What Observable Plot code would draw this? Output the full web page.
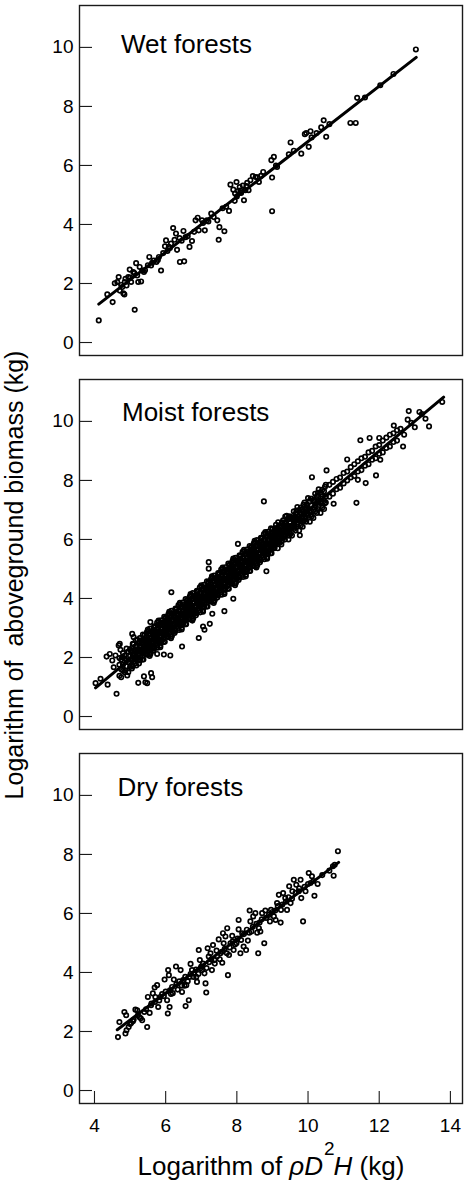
<!DOCTYPE html>
<html>
<head>
<meta charset="utf-8">
<script src="https://cdn.jsdelivr.net/npm/d3@7"></script>
<script src="https://cdn.jsdelivr.net/npm/@observablehq/plot@0.6"></script>
<style>
  body { margin: 0; background: #fff; }
  #chart { position: relative; width: 464px; height: 1187px; font-family: "Liberation Sans", Arial, sans-serif; }
  #chart > div.panel { position: absolute; left: 0; }
  #overlay { position: absolute; left: 0; top: 0; pointer-events: none; }
</style>
</head>
<body>
<div id="chart"></div>
<script>
// ---------- data ----------
const panelTitles = ["Wet forests", "Moist forests", "Dry forests"];
const yTicks = [0, 2, 4, 6, 8, 10];
const xTicks = [4, 6, 8, 10, 12, 14];
const yTitle = "Logarithm of  aboveground biomass (kg)";

// regression line endpoints [x, y]
const wetLine = [[4.12, 1.30], [13.04, 9.66]];
const moistLine = [[4.03, 0.97], [13.81, 10.82]];
const dryLine = [[4.64, 2.06], [10.86, 7.73]];

// observations [x, y]
const wet = [
[4.12,0.75],[4.36,1.63],[4.51,1.37],[4.57,2.01],[4.64,2.05],[4.68,2.22],[4.71,1.76],[4.78,1.88],[4.81,1.67],[4.84,1.63],
[4.87,2.16],[4.90,1.93],[4.95,2.22],[4.99,2.47],[5.03,2.05],[5.09,2.39],[5.13,1.11],[5.17,2.69],[5.20,2.27],[5.23,2.05],
[5.27,2.56],[5.31,2.07],[5.34,2.44],[5.39,2.39],[5.54,2.90],[5.59,2.61],[5.67,2.78],[5.74,2.73],[5.81,2.90],[5.87,2.44],
[5.93,3.03],[5.98,3.26],[6.01,3.46],[6.09,3.24],[6.15,3.35],[6.21,3.88],[6.25,3.48],[6.29,3.69],[6.32,3.14],[6.39,3.54],
[6.40,2.73],[6.50,3.78],[6.52,2.75],[6.56,3.57],[6.67,3.24],[6.74,3.44],[6.84,4.14],[6.90,4.23],[6.93,3.80],[7.02,4.14],
[7.10,3.80],[7.16,4.14],[7.28,4.37],[7.45,4.14],[7.49,3.48],[7.51,3.91],[7.65,3.77],[7.78,4.46],[7.82,5.35],[7.90,5.18],
[7.94,4.80],[7.99,5.44],[8.03,5.13],[8.08,5.27],[8.12,5.07],[8.17,5.32],[8.20,4.82],[8.24,5.16],[8.29,5.41],[8.33,5.16],
[8.45,5.64],[8.53,5.61],[8.62,5.44],[8.74,5.78],[8.97,6.18],[8.99,5.59],[8.99,4.45],[9.04,6.29],[9.13,5.95],[9.46,6.38],
[9.51,6.78],[9.81,6.40],[9.91,7.06],[9.95,7.10],[10.02,6.63],[10.07,7.16],[10.24,7.10],[10.37,7.29],[10.44,7.53],[10.51,6.97],
[11.19,7.44],[11.34,7.44],[11.38,8.29],[12.03,8.72],[13.03,9.93],
[4.75,1.95],[4.85,2.05],[5.00,2.20],[5.12,2.35],[5.42,2.45],[5.50,2.62],[5.62,2.70],[5.78,2.80],[6.05,3.10],[6.12,3.20],
[6.45,3.45],[6.62,3.60],[6.80,3.75],[7.05,4.05],[7.20,4.10],[7.35,4.25],[7.60,4.55],[7.70,4.60],[7.95,5.05],[8.00,4.95],
[8.10,5.15],[8.27,5.30],[8.38,5.50],[8.58,5.60],[8.68,5.65],[9.10,6.00],[9.60,6.50],[10.10,6.95],[10.60,7.40],[11.60,8.30],[12.40,9.10]
];

const moist = [
[4.03,1.13],[4.17,1.28],[4.37,1.08],[4.34,2.03],[4.43,2.12],[4.50,1.90],[4.54,1.67],[4.62,0.77],[4.59,2.07],[4.68,2.41],
[4.71,2.46],[4.73,2.26],[4.78,2.01],[4.87,1.56],[4.92,1.39],[5.06,2.80],[5.10,2.69],[5.23,1.14],[5.39,1.36],[5.43,1.16],
[5.48,1.13],[5.59,1.47],[5.62,1.33],[5.57,3.20],[5.76,2.12],[5.95,2.10],[6.13,2.07],[6.16,4.21],[6.46,2.37],[6.93,2.66],
[7.05,3.05],[7.09,2.94],[7.24,3.14],[7.31,3.48],[7.65,3.57],[7.21,5.01],[7.21,5.23],[8.03,5.85],[7.90,3.99],[8.83,4.92],
[8.76,7.29],[9.77,6.14],[10.11,8.11],[10.52,8.34],[10.72,7.21],[11.10,8.71],[11.36,7.24],[11.40,8.02],[11.47,9.36],[11.62,7.91],
[11.73,9.44],[11.91,8.17],[12.00,9.44],[12.03,8.70],[12.41,9.86],[12.67,9.15],[12.80,10.06],[12.83,10.35],[13.13,10.32],[13.30,10.09],
[13.40,9.83],[13.77,10.66],
[4.70,1.38],[4.70,1.75],[4.70,1.98],[4.75,1.60],[4.75,1.93],[4.75,1.33],[4.80,2.15],[4.80,1.75],[4.80,1.55],
[4.85,1.97],[4.85,1.50],[4.85,2.07],[4.90,1.70],[4.90,2.30],[4.90,1.90],[4.95,2.20],[4.95,1.85],[4.95,1.50],
[5.00,1.68],[5.00,2.05],[5.00,2.28],[5.05,1.90],[5.05,2.23],[5.05,1.63],[5.10,2.45],[5.10,2.05],[5.10,1.85],
[5.15,2.27],[5.15,1.80],[5.15,2.37],[5.20,2.00],[5.20,2.60],[5.20,2.20],[5.25,2.50],[5.25,2.15],[5.25,1.80],
[5.30,1.98],[5.30,2.35],[5.30,2.58],[5.35,2.20],[5.35,2.53],[5.35,1.93],[5.40,2.75],[5.40,2.35],[5.40,2.15],
[5.45,2.57],[5.45,2.10],[5.45,2.67],
[5.50,2.30],[5.50,2.90],[5.50,2.50],[5.50,2.95],[5.55,2.80],[5.55,2.45],[5.55,2.10],[5.55,2.05],
[5.60,2.28],[5.60,2.65],[5.60,2.88],[5.60,2.68],[5.65,2.50],[5.65,2.83],[5.65,2.23],[5.65,2.37],
[5.70,3.05],[5.70,2.65],[5.70,2.45],[5.70,3.02],[5.75,2.87],[5.75,2.40],[5.75,2.97],[5.75,2.63],
[5.80,2.60],[5.80,3.20],[5.80,2.80],[5.80,3.25],[5.85,3.10],[5.85,2.75],[5.85,2.40],[5.85,2.35],
[5.90,2.58],[5.90,2.95],[5.90,3.18],[5.90,2.98],[5.95,2.80],[5.95,3.13],[5.95,2.53],[5.95,2.67],
[6.00,3.35],[6.00,2.95],[6.00,2.75],[6.00,3.32],[6.05,3.17],[6.05,2.70],[6.05,3.27],[6.05,2.93],
[6.10,2.90],[6.10,3.50],[6.10,3.10],[6.10,3.55],[6.15,3.40],[6.15,3.05],[6.15,2.70],[6.15,2.65],
[6.20,2.88],[6.20,3.25],[6.20,3.48],[6.20,3.28],[6.25,3.10],[6.25,3.43],[6.25,2.83],[6.25,2.97],
[6.30,3.65],[6.30,3.25],[6.30,3.05],[6.30,3.62],[6.35,3.47],[6.35,3.00],[6.35,3.57],[6.35,3.23],
[6.40,3.20],[6.40,3.80],[6.40,3.40],[6.40,3.85],[6.45,3.70],[6.45,3.35],[6.45,3.00],[6.45,2.95],
[6.50,3.18],[6.50,3.55],[6.50,3.78],[6.50,3.58],[6.55,3.40],[6.55,3.73],[6.55,3.13],[6.55,3.27],
[6.60,3.95],[6.60,3.55],[6.60,3.35],[6.60,3.92],[6.65,3.77],[6.65,3.30],[6.65,3.87],[6.65,3.53],
[6.70,3.50],[6.70,4.10],[6.70,3.70],[6.70,4.15],[6.75,4.00],[6.75,3.65],[6.75,3.30],[6.75,3.25],
[6.80,3.48],[6.80,3.85],[6.80,4.08],[6.80,3.88],[6.85,3.70],[6.85,4.03],[6.85,3.43],[6.85,3.57],
[6.90,4.25],[6.90,3.85],[6.90,3.65],[6.90,4.22],[6.95,4.07],[6.95,3.60],[6.95,4.17],[6.95,3.83],
[7.00,3.80],[7.00,4.40],[7.00,4.00],[7.00,4.45],[7.05,4.30],[7.05,3.95],[7.05,3.60],[7.05,3.55],
[7.10,3.78],[7.10,4.15],[7.10,4.38],[7.10,4.18],[7.15,4.00],[7.15,4.33],[7.15,3.73],[7.15,3.87],
[7.20,4.55],[7.20,4.15],[7.20,3.95],[7.20,4.52],[7.25,4.37],[7.25,3.90],[7.25,4.47],[7.25,4.13],
[7.30,4.10],[7.30,4.70],[7.30,4.30],[7.30,4.75],[7.35,4.60],[7.35,4.25],[7.35,3.90],[7.35,3.85],
[7.40,4.08],[7.40,4.45],[7.40,4.68],[7.40,4.48],[7.45,4.30],[7.45,4.63],[7.45,4.03],[7.45,4.17],
[7.50,4.85],[7.50,4.45],[7.50,4.25],[7.50,4.82],[7.55,4.67],[7.55,4.20],[7.55,4.77],[7.55,4.43],
[7.60,4.40],[7.60,5.00],[7.60,4.60],[7.60,5.05],[7.65,4.90],[7.65,4.55],[7.65,4.20],[7.65,4.15],
[7.70,4.38],[7.70,4.75],[7.70,4.98],[7.70,4.78],[7.75,4.60],[7.75,4.93],[7.75,4.33],[7.75,4.47],
[7.80,5.15],[7.80,4.75],[7.80,4.55],[7.80,5.12],[7.85,4.97],[7.85,4.50],[7.85,5.07],[7.85,4.73],
[7.90,4.70],[7.90,5.30],[7.90,4.90],[7.90,5.35],[7.95,5.20],[7.95,4.85],[7.95,4.50],[7.95,4.45],
[8.00,4.68],[8.00,5.05],[8.00,5.28],[8.00,5.08],[8.05,4.90],[8.05,5.23],[8.05,4.63],[8.05,4.77],
[8.10,5.45],[8.10,5.05],[8.10,4.85],[8.10,5.42],[8.15,5.27],[8.15,4.80],[8.15,5.37],[8.15,5.03],
[8.20,5.00],[8.20,5.60],[8.20,5.20],[8.20,5.65],[8.25,5.50],[8.25,5.15],[8.25,4.80],[8.25,4.75],
[8.30,4.98],[8.30,5.35],[8.30,5.58],[8.30,5.38],[8.35,5.20],[8.35,5.53],[8.35,4.93],[8.35,5.07],
[8.40,5.75],[8.40,5.35],[8.40,5.15],[8.40,5.72],[8.45,5.57],[8.45,5.10],[8.45,5.67],[8.45,5.33],
[8.50,5.30],[8.50,5.90],[8.50,5.50],[8.50,5.95],[8.55,5.80],[8.55,5.45],[8.55,5.10],[8.55,5.05],
[8.60,5.28],[8.60,5.65],[8.60,5.88],[8.60,5.68],[8.65,5.50],[8.65,5.83],[8.65,5.23],[8.65,5.37],
[8.70,6.05],[8.70,5.65],[8.70,5.45],[8.70,6.02],[8.75,5.87],[8.75,5.40],[8.75,5.97],[8.75,5.63],
[8.80,5.60],[8.80,6.20],[8.80,5.80],[8.80,6.25],[8.85,6.10],[8.85,5.75],[8.85,5.40],[8.85,5.35],
[8.90,5.58],[8.90,5.95],[8.90,6.18],[8.90,5.98],[8.95,5.80],[8.95,6.13],[8.95,5.53],[8.95,5.67],
[9.00,6.35],[9.00,5.95],[9.00,5.75],[9.05,6.17],[9.05,5.70],[9.05,6.27],[9.10,5.90],[9.10,6.50],[9.10,6.10],
[9.15,6.40],[9.15,6.05],[9.15,5.70],[9.20,5.88],[9.20,6.25],[9.20,6.48],[9.25,6.10],[9.25,6.43],[9.25,5.83],
[9.30,6.65],[9.30,6.25],[9.30,6.05],[9.35,6.47],[9.35,6.00],[9.35,6.57],[9.40,6.20],[9.40,6.80],[9.40,6.40],
[9.45,6.70],[9.45,6.35],[9.45,6.00],[9.50,6.18],[9.50,6.55],[9.50,6.78],[9.55,6.40],[9.55,6.73],[9.55,6.13],
[9.60,6.95],[9.60,6.55],[9.60,6.35],[9.65,6.77],[9.65,6.30],[9.65,6.87],[9.70,6.50],[9.70,7.10],[9.70,6.70],
[9.75,7.00],[9.75,6.65],[9.75,6.30],[9.80,6.48],[9.80,6.85],[9.80,7.08],[9.85,6.70],[9.85,7.03],[9.85,6.43],
[9.90,7.25],[9.90,6.85],[9.90,6.65],[9.95,7.07],[9.95,6.60],[9.95,7.17],[10.00,6.80],[10.00,7.40],[10.00,7.00],
[10.05,7.30],[10.05,6.95],[10.05,6.60],[10.10,6.78],[10.10,7.15],[10.10,7.38],[10.15,7.00],[10.15,7.33],[10.15,6.73],
[10.20,7.55],[10.20,7.15],[10.20,6.95],[10.25,7.37],[10.25,6.90],[10.25,7.47],[10.30,7.10],[10.30,7.70],[10.30,7.30],
[10.35,7.60],[10.35,7.25],[10.35,6.90],[10.40,7.08],[10.40,7.45],[10.40,7.68],[10.45,7.30],[10.45,7.63],[10.45,7.03],
[10.50,7.85],[10.50,7.45],[10.50,7.25],
[10.6,7.85],[10.6,7.45],[10.7,7.55],[10.7,7.95],[10.8,8.05],[10.8,7.70],[10.9,7.75],[10.9,8.10],[11.0,8.25],[11.0,7.90],
[11.1,8.00],[11.1,8.30],[11.2,8.45],[11.2,8.10],[11.3,8.15],[11.3,8.55],[11.4,8.65],[11.4,8.30],[11.5,8.35],[11.5,8.75],
[11.6,8.80],[11.6,8.50],[11.7,8.55],[11.7,8.95],[11.8,9.00],[11.8,8.70],[11.9,8.75],[11.9,9.15],[12.0,9.20],[12.0,8.90],
[12.1,8.95],[12.1,9.35],[12.2,9.45],[12.2,9.10],[12.3,9.15],[12.3,9.55],[12.4,9.60],[12.4,9.30],[12.5,9.35],[12.5,9.70],
[12.6,9.75],[12.7,9.55],[12.9,9.95],[13.0,9.80],[13.2,10.25],
[5.025,1.95],[5.025,2.21],[5.125,2.23],[5.125,1.93],[5.225,2.08],[5.225,2.28],[5.325,2.25],[5.325,2.51],[5.425,2.53],[5.425,2.23],
[5.525,2.38],[5.525,2.58],[5.625,2.55],[5.625,2.81],[5.725,2.83],[5.725,2.53],[5.825,2.68],[5.825,2.88],[5.925,2.85],[5.925,3.11],
[6.025,3.13],[6.025,2.83],[6.125,2.98],[6.125,3.18],[6.225,3.15],[6.225,3.41],[6.325,3.43],[6.325,3.13],[6.425,3.28],[6.425,3.48],
[6.525,3.45],[6.525,3.71],[6.625,3.73],[6.625,3.43],[6.725,3.58],[6.725,3.78],[6.825,3.75],[6.825,4.01],[6.925,4.03],[6.925,3.73],
[7.025,3.88],[7.025,4.08],[7.125,4.05],[7.125,4.31],[7.225,4.33],[7.225,4.03],[7.325,4.18],[7.325,4.38],[7.425,4.35],[7.425,4.61],
[7.525,4.63],[7.525,4.33],[7.625,4.48],[7.625,4.68],[7.725,4.65],[7.725,4.91],[7.825,4.93],[7.825,4.63],[7.925,4.78],[7.925,4.98],
[8.025,4.95],[8.025,5.21],[8.125,5.23],[8.125,4.93],[8.225,5.08],[8.225,5.28],[8.325,5.25],[8.325,5.51],[8.425,5.53],[8.425,5.23],
[8.525,5.38],[8.525,5.58],[8.625,5.55],[8.625,5.81],[8.725,5.83],[8.725,5.53],[8.825,5.68],[8.825,5.88],[8.925,5.85],[8.925,6.11],
[9.025,6.13],[9.025,5.83],[9.125,5.98],[9.125,6.18],[9.225,6.15],[9.225,6.41],[9.325,6.43],[9.325,6.13],[9.425,6.28],[9.425,6.48],
[9.525,6.45],[9.525,6.71],[9.625,6.73],[9.625,6.43],[9.725,6.58],[9.725,6.78],[9.825,6.75],[9.825,7.01],[9.925,7.03],[9.925,6.73],
[5.075,2.46],[5.075,2.08],[5.075,1.70],[5.175,2.38],[5.175,1.98],[5.175,1.73],[5.275,2.66],[5.275,2.28],[5.275,1.90],
[5.375,2.58],[5.375,2.18],[5.375,1.93],[5.475,2.86],[5.475,2.48],[5.475,2.10],[5.575,2.78],[5.575,2.38],[5.575,2.13],
[5.675,3.06],[5.675,2.68],[5.675,2.30],[5.775,2.98],[5.775,2.58],[5.775,2.33],[5.875,3.26],[5.875,2.88],[5.875,2.50],
[5.975,3.18],[5.975,2.78],[5.975,2.53],[6.075,3.46],[6.075,3.08],[6.075,2.70],[6.175,3.38],[6.175,2.98],[6.175,2.73],
[6.275,3.66],[6.275,3.28],[6.275,2.90],[6.375,3.58],[6.375,3.18],[6.375,2.93],[6.475,3.86],[6.475,3.48],[6.475,3.10],
[6.575,3.78],[6.575,3.38],[6.575,3.13],[6.675,4.06],[6.675,3.68],[6.675,3.30],[6.775,3.98],[6.775,3.58],[6.775,3.33],
[6.875,4.26],[6.875,3.88],[6.875,3.50],[6.975,4.18],[6.975,3.78],[6.975,3.53],[7.075,4.46],[7.075,4.08],[7.075,3.70],
[7.175,4.38],[7.175,3.98],[7.175,3.73],[7.275,4.66],[7.275,4.28],[7.275,3.90],[7.375,4.58],[7.375,4.18],[7.375,3.93],
[7.475,4.86],[7.475,4.48],[7.475,4.10],[7.575,4.78],[7.575,4.38],[7.575,4.13],[7.675,5.06],[7.675,4.68],[7.675,4.30],
[7.775,4.98],[7.775,4.58],[7.775,4.33],[7.875,5.26],[7.875,4.88],[7.875,4.50],[7.975,5.18],[7.975,4.78],[7.975,4.53],
[8.075,5.46],[8.075,5.08],[8.075,4.70],[8.175,5.38],[8.175,4.98],[8.175,4.73],[8.275,5.66],[8.275,5.28],[8.275,4.90],
[8.375,5.58],[8.375,5.18],[8.375,4.93],[8.475,5.86],[8.475,5.48],[8.475,5.10],[8.575,5.78],[8.575,5.38],[8.575,5.13],
[8.675,6.06],[8.675,5.68],[8.675,5.30],[8.775,5.98],[8.775,5.58],[8.775,5.33],[8.875,6.26],[8.875,5.88],[8.875,5.50],
[8.975,6.18],[8.975,5.78],[8.975,5.53],
[9.075,6.38],[9.075,5.83],[9.175,6.08],[9.175,6.33],[9.275,6.58],[9.275,6.03],[9.375,6.28],[9.375,6.53],[9.475,6.78],[9.475,6.23],
[9.575,6.48],[9.575,6.73],[9.675,6.98],[9.675,6.43],[9.775,6.68],[9.775,6.93],[9.875,7.18],[9.875,6.63],[9.975,6.88],[9.975,7.13],
[10.075,7.38],[10.075,6.83],[10.175,7.08],[10.175,7.33],[10.275,7.58],[10.275,7.03],[10.375,7.28],[10.375,7.53],[10.475,7.78],[10.475,7.23],
[5.06,2.34],[5.06,1.94],[5.06,1.73],[5.16,2.58],[5.16,2.24],[5.16,1.94],[5.26,2.54],[5.26,2.14],[5.26,1.93],
[5.36,2.78],[5.36,2.44],[5.36,2.14],[5.46,2.74],[5.46,2.34],[5.46,2.13],[5.56,2.98],[5.56,2.64],[5.56,2.34],
[5.66,2.94],[5.66,2.54],[5.66,2.33],[5.76,3.18],[5.76,2.84],[5.76,2.54],[5.86,3.14],[5.86,2.74],[5.86,2.53],
[5.96,3.38],[5.96,3.04],[5.96,2.74],[6.06,3.34],[6.06,2.94],[6.06,2.73],[6.16,3.58],[6.16,3.24],[6.16,2.94],
[6.26,3.54],[6.26,3.14],[6.26,2.93],[6.36,3.78],[6.36,3.44],[6.36,3.14],[6.46,3.74],[6.46,3.34],[6.46,3.13],
[6.56,3.98],[6.56,3.64],[6.56,3.34],[6.66,3.94],[6.66,3.54],[6.66,3.33],[6.76,4.18],[6.76,3.84],[6.76,3.54],
[6.86,4.14],[6.86,3.74],[6.86,3.53],[6.96,4.38],[6.96,4.04],[6.96,3.74],[7.06,4.34],[7.06,3.94],[7.06,3.73],
[7.16,4.58],[7.16,4.24],[7.16,3.94],[7.26,4.54],[7.26,4.14],[7.26,3.93],[7.36,4.78],[7.36,4.44],[7.36,4.14],
[7.46,4.74],[7.46,4.34],[7.46,4.13],[7.56,4.98],[7.56,4.64],[7.56,4.34],[7.66,4.94],[7.66,4.54],[7.66,4.33],
[7.76,5.18],[7.76,4.84],[7.76,4.54],[7.86,5.14],[7.86,4.74],[7.86,4.53],[7.96,5.38],[7.96,5.04],[7.96,4.74],
[8.06,5.34],[8.06,4.94],[8.06,4.73],[8.16,5.58],[8.16,5.24],[8.16,4.94],[8.26,5.54],[8.26,5.14],[8.26,4.93],
[8.36,5.78],[8.36,5.44],[8.36,5.14],[8.46,5.74],[8.46,5.34],[8.46,5.13],[8.56,5.98],[8.56,5.64],[8.56,5.34],
[8.66,5.94],[8.66,5.54],[8.66,5.33],[8.76,6.18],[8.76,5.84],[8.76,5.54],[8.86,6.14],[8.86,5.74],[8.86,5.53],
[8.96,6.38],[8.96,6.04],[8.96,5.74],[9.06,6.34],[9.06,5.94],[9.06,5.73],[9.16,6.58],[9.16,6.24],[9.16,5.94],
[9.26,6.54],[9.26,6.14],[9.26,5.93],[9.36,6.78],[9.36,6.44],[9.36,6.14],[9.46,6.74],[9.46,6.34],[9.46,6.13]
];

const dry = [
[4.66,1.81],[4.70,2.32],[4.84,2.66],[4.89,2.55],[4.87,1.93],[4.90,2.04],[4.96,2.15],[5.03,2.29],[5.10,2.40],[5.15,2.74],
[5.20,2.72],[5.26,2.49],[5.34,2.38],[5.40,2.66],[5.48,2.15],[5.50,3.17],[5.55,2.63],[5.59,2.89],[5.64,3.29],[5.69,3.49],
[5.71,3.17],[5.76,3.57],[5.79,2.83],[5.85,3.17],[5.90,3.27],[5.97,3.76],[6.04,3.06],[6.06,2.61],[6.07,4.08],[6.09,3.91],
[6.11,2.83],[6.15,3.27],[6.18,3.51],[6.23,3.76],[6.29,4.20],[6.34,3.42],[6.42,4.08],[6.46,3.34],[6.49,3.74],[6.53,3.55],
[6.56,2.86],[6.58,3.57],[6.65,3.06],[6.67,3.85],[6.70,4.29],[6.74,4.08],[6.79,3.97],[6.86,3.85],[6.88,3.68],[6.93,4.76],
[6.96,4.42],[6.98,4.14],[7.02,4.08],[7.09,3.97],[7.12,3.63],[7.14,3.32],[7.18,4.82],[7.21,4.54],[7.26,4.65],[7.30,4.08],
[7.33,4.93],[7.37,4.42],[7.43,4.74],[7.49,5.12],[7.54,4.65],[7.59,4.33],[7.61,5.33],[7.63,4.99],[7.68,5.22],[7.73,5.50],
[7.75,3.91],[7.78,4.59],[7.82,4.99],[7.87,5.24],[7.91,4.76],[7.99,4.99],[8.05,5.46],[8.05,5.78],[8.10,4.65],[8.15,5.33],
[8.19,4.88],[8.26,4.76],[8.31,5.08],[8.36,6.10],[8.38,5.73],[8.41,5.39],[8.46,5.90],[8.52,6.01],[8.57,5.35],[8.60,4.65],
[8.64,5.69],[8.66,5.39],[8.71,6.01],[8.77,4.99],[8.80,6.10],[8.93,5.73],[8.96,6.12],[9.04,5.90],[9.09,5.78],[9.13,6.35],
[9.18,6.63],[9.23,5.69],[9.24,6.12],[9.30,6.69],[9.36,6.52],[9.41,6.12],[9.47,6.92],[9.51,6.35],[9.56,6.75],[9.60,7.14],
[9.67,6.97],[9.74,6.75],[9.79,7.14],[9.81,6.52],[9.86,5.73],[9.93,6.75],[10.02,7.37],[10.07,7.03],[10.11,7.26],[10.18,6.60],
[10.27,7.00],[10.72,7.28],[10.75,7.65],[10.84,8.11],
[5.00,2.25],[5.08,2.35],[5.22,2.55],[5.30,2.45],[5.45,2.75],[5.60,2.95],[5.70,3.00],[5.82,3.05],[5.95,3.20],[6.00,3.35],
[6.12,3.40],[6.20,3.30],[6.30,3.60],[6.38,3.70],[6.45,3.55],[6.55,3.85],[6.62,3.70],[6.70,3.95],[6.78,3.85],[6.85,4.10],
[6.92,3.95],[7.00,4.20],[7.05,4.30],[7.15,4.15],[7.22,4.35],[7.28,4.45],[7.38,4.30],[7.45,4.55],[7.52,4.45],[7.58,4.70],
[7.66,4.80],[7.72,4.65],[7.80,4.85],[7.88,5.05],[7.95,4.95],[8.02,5.15],[8.12,5.10],[8.20,5.30],[8.28,5.45],[8.35,5.35],
[8.45,5.55],[8.55,5.65],[8.62,5.50],[8.70,5.80],[8.82,5.85],[8.90,5.95],[9.00,6.05],[9.08,6.10],[9.15,6.25],[9.28,6.30],
[9.38,6.40],[9.45,6.55],[9.55,6.50],[9.65,6.70],[9.75,6.85],[9.90,6.90],[10.00,7.00],[10.15,7.10],[10.40,7.30],[10.60,7.45],[10.70,7.60]
];

// ---------- drawing ----------
const FONT = '"Liberation Sans", Arial, Helvetica, sans-serif';
const W = 464;
const xDomain = [3.579, 14.34];
const yDomain = [-0.44, 11.42];
const FRAME_W = 462 - 79;   // plot frame width (px)
const FRAME_H = 350;        // plot frame height (px)

const panels = [
  {title: panelTitles[0], pts: wet, line: wetLine, top: 0, height: 360, mb: 5, tdx: 41.5, tdy: 47, xaxis: false},
  {title: panelTitles[1], pts: moist, line: moistLine, top: 374, height: 360, mb: 5, tdx: 42.5, tdy: 41.5, xaxis: false},
  {title: panelTitles[2], pts: dry, line: dryLine, top: 748, height: 439, mb: 84, tdx: 38, tdy: 42, xaxis: true}
];

const chart = document.getElementById("chart");

for (const p of panels) {
  const marks = [
    Plot.frame({stroke: "#1a1a1a", strokeWidth: 1.4}),
    // inward tick marks on the left edge
    Plot.tickY(yTicks, {y: d => d, stroke: "#1a1a1a", strokeWidth: 1.1, insetRight: FRAME_W - 13}),
    Plot.axisY(yTicks, {anchor: "left", tickSize: 0, tickPadding: 6, fontSize: 19, label: null}),
    Plot.dot(p.pts, {x: d => d[0], y: d => d[1], r: 2.2, stroke: "#000", strokeWidth: 1.7, fill: "none"}),
    Plot.line(p.line, {x: d => d[0], y: d => d[1], stroke: "#000", strokeWidth: 3}),
    Plot.text([p.title], {text: d => d, frameAnchor: "top-left", dx: p.tdx, dy: p.tdy, lineAnchor: "bottom", textAnchor: "start", fontSize: 26, fill: "#000"})
  ];
  if (p.xaxis) {
    marks.push(Plot.tickX(xTicks, {x: d => d, stroke: "#1a1a1a", strokeWidth: 1.1, insetTop: FRAME_H - 12}));
    marks.push(Plot.axisX(xTicks, {anchor: "bottom", tickSize: 0, tickPadding: 15, fontSize: 19, label: null}));
  }
  const svg = Plot.plot({
    width: W,
    height: p.height,
    marginTop: 5,
    marginBottom: p.mb,
    marginLeft: 79,
    marginRight: 2,
    style: {fontFamily: FONT, fontSize: "19px", color: "#000", background: "#fff"},
    x: {domain: xDomain, axis: null, label: null},
    y: {domain: yDomain, axis: null, label: null},
    marks
  });
  const wrap = document.createElement("div");
  wrap.className = "panel";
  wrap.style.top = p.top + "px";
  wrap.appendChild(svg);
  chart.appendChild(wrap);
}

// axis titles overlay
const ov = d3.select(chart).append("svg")
  .attr("id", "overlay")
  .attr("width", W).attr("height", 1187)
  .style("font-family", FONT);

ov.append("text")
  .attr("transform", "translate(23,575) rotate(-90)")
  .attr("text-anchor", "middle")
  .attr("font-size", 25)
  .style("white-space", "pre")
  .attr("fill", "#000")
  .text(yTitle);

const xt = ov.append("text")
  .attr("x", 271).attr("y", 1175)
  .attr("text-anchor", "middle")
  .attr("font-size", 26)
  .attr("fill", "#000");
xt.append("tspan").text("Logarithm of ");
xt.append("tspan").attr("font-style", "italic").text("\u03C1D");
xt.append("tspan").attr("font-size", 19).attr("dy", -20).attr("dx", 1).text("2");
xt.append("tspan").attr("font-style", "italic").attr("dy", 20).attr("dx", -1).text("H");
xt.append("tspan").text(" (kg)");
</script>
</body>
</html>
